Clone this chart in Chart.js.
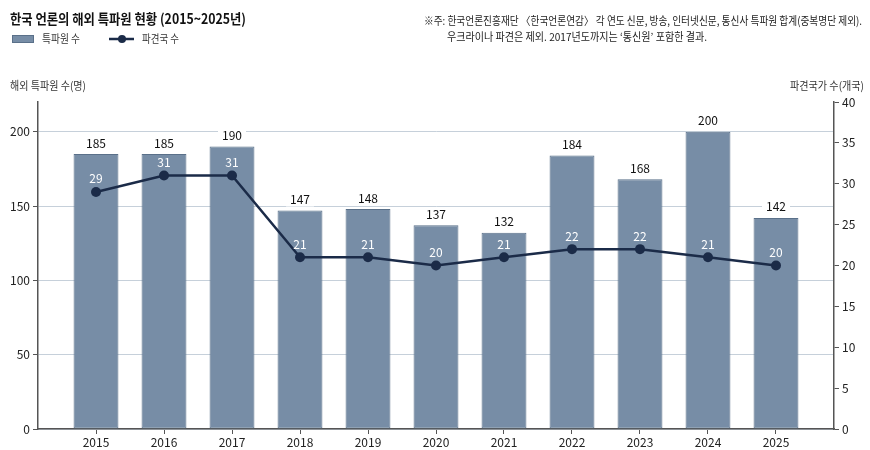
<!DOCTYPE html>
<html>
<head>
<meta charset="utf-8">
<script src="https://cdn.jsdelivr.net/npm/chart.js@4.4.1/dist/chart.umd.min.js"></script>
<style>
html, body { margin: 0; padding: 0; background: #fff; }
#wrap { width: 870px; height: 450px; position: relative; }
</style>
</head>
<body>
<div id="wrap"><canvas id="mycanvas"></canvas></div>
<script>
var years = ['2015', '2016', '2017', '2018', '2019', '2020', '2021', '2022', '2023', '2024', '2025'];
var correspondents = [185, 185, 190, 147, 148, 137, 132, 184, 168, 200, 142];
var countries = [29, 31, 31, 21, 21, 20, 21, 22, 22, 21, 20];

var FONT = '"Noto Sans CJK KR", "Noto Sans", sans-serif';
var barColor = '#778da6';
var barBorder = '#5a7089';
var lineColor = '#1b2b48';
var axisColor = '#555555';

// text outside the plot: title, legend, note, axis titles
var decorations = {
	id: 'decorations',
	afterDraw: function(chart) {
		var ctx = chart.ctx;
		ctx.save();
		ctx.textBaseline = 'middle';
		ctx.textAlign = 'left';

		ctx.fillStyle = '#111';
		ctx.font = 'bold 14px ' + FONT;
		ctx.fillText('한국 언론의 해외 특파원 현황 (2015~2025년)', 10, 19, 236);

		// legend
		ctx.fillStyle = barColor;
		ctx.fillRect(12, 35, 22, 8);
		ctx.strokeStyle = barBorder;
		ctx.lineWidth = 1;
		ctx.strokeRect(12.5, 35.5, 21, 7);
		ctx.fillStyle = '#333';
		ctx.font = '11px ' + FONT;
		ctx.fillText('특파원 수', 42, 39, 38);

		ctx.strokeStyle = lineColor;
		ctx.lineWidth = 2.5;
		ctx.beginPath();
		ctx.moveTo(109, 39);
		ctx.lineTo(134, 39);
		ctx.stroke();
		ctx.fillStyle = lineColor;
		ctx.beginPath();
		ctx.arc(122, 39, 4, 0, Math.PI * 2);
		ctx.fill();
		ctx.fillStyle = '#333';
		ctx.fillText('파견국 수', 142, 39, 37);

		// note
		ctx.fillStyle = '#222';
		ctx.font = '11px ' + FONT;
		ctx.fillText('※주: 한국언론진흥재단 〈한국언론연감〉 각 연도 신문, 방송, 인터넷신문, 통신사 특파원 합계(중복명단 제외).', 424, 21, 438);
		ctx.fillText('우크라이나 파견은 제외. 2017년도까지는 ‘통신원’ 포함한 결과.', 447, 37, 260);

		// axis titles
		ctx.fillStyle = '#333';
		ctx.fillText('해외 특파원 수(명)', 10, 86, 76);
		ctx.textAlign = 'right';
		ctx.fillText('파견국가 수(개국)', 864, 86, 74);
		ctx.restore();
	}
};

// value labels on bars and points
var valueLabels = {
	id: 'valueLabels',
	afterDatasetDraw: function(chart, args) {
		var ctx = chart.ctx;
		var meta = args.meta;
		ctx.save();
		ctx.textAlign = 'center';
		ctx.textBaseline = 'middle';
		ctx.font = '12px ' + FONT;
		if (args.index === 0) {
			meta.data.forEach(function(bar, i) {
				var txt = String(correspondents[i]);
				var w = ctx.measureText(txt).width + 8;
				var y = bar.y - 11;
				ctx.fillStyle = '#fff';
				ctx.fillRect(bar.x - w / 2, y - 7, w, 14);
				ctx.fillStyle = '#111';
				ctx.fillText(txt, bar.x, y);
			});
		} else {
			meta.data.forEach(function(pt, i) {
				ctx.fillStyle = '#fff';
				ctx.fillText(String(countries[i]), pt.x, pt.y - 13);
			});
		}
		ctx.restore();
	}
};

var barData = correspondents.map(function(v, i) { return {x: i, y: v}; });
var lineData = countries.map(function(v, i) { return {x: i, y: v}; });

var ctx = document.getElementById('mycanvas');

var ComboChart = new Chart(ctx, {
	type: 'bar',
	data: {
		datasets: [
			{
				type: 'bar',
				label: '특파원 수',
				data: barData,
				yAxisID: 'y',
				backgroundColor: barColor,
				borderColor: barBorder,
				borderWidth: 1,
				borderSkipped: false,
				barPercentage: 0.66,
				categoryPercentage: 1,
				order: 1
			},
			{
				type: 'line',
				label: '파견국 수',
				data: lineData,
				yAxisID: 'y1',
				borderColor: lineColor,
				backgroundColor: lineColor,
				borderWidth: 2.5,
				pointRadius: 5,
				pointBackgroundColor: lineColor,
				pointBorderWidth: 0,
				tension: 0,
				order: 0
			}
		]
	},
	options: {
		responsive: true,
		maintainAspectRatio: false,
		animation: false,
		layout: { padding: { top: 102, left: 0, right: 0, bottom: 0 } },
		plugins: {
			legend: { display: false },
			tooltip: { enabled: false }
		},
		scales: {
			x: {
				type: 'linear',
				offset: false,
				min: -0.853,
				max: 10.853,
				afterBuildTicks: function(scale) {
					scale.ticks = years.map(function(y, i) { return {value: i}; });
				},
				afterFit: function(scale) { scale.height = 21; },
				ticks: {
					autoSkip: false,
					maxRotation: 0,
					padding: 1,
					color: '#222',
					font: { family: FONT, size: 12 },
					callback: function(value) { return years[value]; }
				},
				grid: { offset: false, drawOnChartArea: false, drawTicks: true, tickLength: 5, tickColor: axisColor },
				border: { color: axisColor, width: 1.5 }
			},
			y: {
				position: 'left',
				min: 0,
				max: 220,
				afterBuildTicks: function(scale) {
					scale.ticks = [0, 50, 100, 150, 200].map(function(v) { return {value: v}; });
				},
				afterFit: function(scale) { scale.width = 38; },
				ticks: {
					padding: 3,
					color: '#222',
					font: { family: FONT, size: 12 }
				},
				grid: { color: '#c6d0da', lineWidth: 1, tickLength: 5, tickColor: axisColor },
				border: { color: axisColor, width: 1.5 }
			},
			y1: {
				position: 'right',
				min: 0,
				max: 40,
				ticks: {
					stepSize: 5,
					padding: 3,
					color: '#222',
					font: { family: FONT, size: 12 }
				},
				afterFit: function(scale) { scale.width = 36; },
				grid: { drawOnChartArea: false, tickLength: 5, tickColor: axisColor },
				border: { color: axisColor, width: 1.5 }
			}
		}
	},
	plugins: [valueLabels, decorations]
});
</script>
</body>
</html>
